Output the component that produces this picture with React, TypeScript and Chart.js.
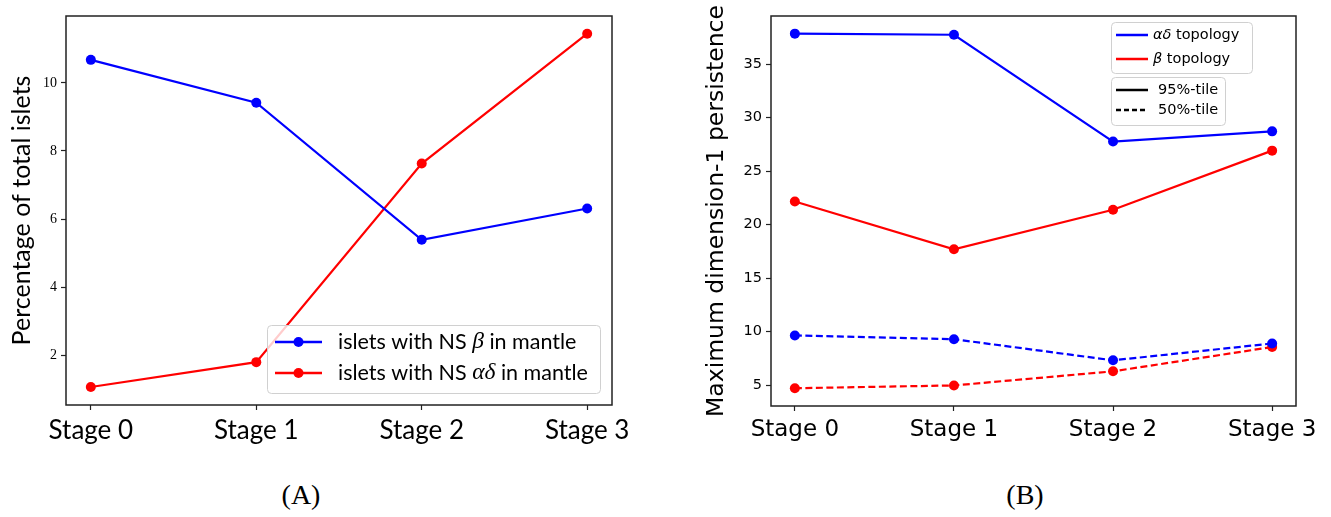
import React, { useEffect, useRef } from 'react';
import { Chart, registerables } from 'chart.js';
Chart.register(...registerables);

// ---------- data ----------
const stages = ['Stage 0', 'Stage 1', 'Stage 2', 'Stage 3'];
const stageIdx = [0, 1, 2, 3];

// Panel A
const nsBetaInMantle = [10.68, 9.42, 5.39, 6.31];
const nsAlphaDeltaInMantle = [1.06, 1.79, 7.63, 11.45];
const yTicksA = [2, 4, 6, 8, 10];
const yRangeA = [0.53, 11.97];

// Panel B
const alphaDelta95 = [37.85, 37.75, 27.77, 28.72];
const beta95 = [22.17, 17.7, 21.4, 26.92];
const alphaDelta50 = [9.65, 9.3, 7.33, 8.9];
const beta50 = [4.72, 4.98, 6.3, 8.57];
const yTicksB = [5, 10, 15, 20, 25, 30, 35];
const yRangeB = [3.06, 39.5];

const xRange = [-0.15, 3.15];

const BLUE = '#0000ff';
const RED = '#ff0000';

type Seg = { text: string; font: string };
type LegendItem = { color: string; dash: number[]; marker: boolean; segs: Seg[] };

const LATO = (px: number) => `${px}px Lato`;
const MATH = (px: number) => `italic ${px}px "Liberation Serif"`;
const DJ = (px: number) => `${px}px "DejaVu Sans"`;
const DJI = (px: number) => `italic ${px}px "DejaVu Sans"`;

const legendA: LegendItem[] = [
  { color: BLUE, dash: [], marker: true, segs: [{ text: 'islets with NS ', font: LATO(21.5) }, { text: 'β', font: MATH(23.5) }, { text: ' in mantle', font: LATO(21.5) }] },
  { color: RED, dash: [], marker: true, segs: [{ text: 'islets with NS ', font: LATO(21.5) }, { text: 'αδ', font: MATH(23.5) }, { text: ' in mantle', font: LATO(21.5) }] },
];
const legendB1: LegendItem[] = [
  { color: BLUE, dash: [], marker: false, segs: [{ text: 'αδ', font: DJI(14.5) }, { text: ' topology', font: DJ(14.5) }] },
  { color: RED, dash: [], marker: false, segs: [{ text: 'β', font: DJI(14.5) }, { text: ' topology', font: DJ(14.5) }] },
];
const legendB2: LegendItem[] = [
  { color: '#000', dash: [], marker: false, segs: [{ text: '95%-tile', font: DJ(14.5) }] },
  { color: '#000', dash: [5, 3], marker: false, segs: [{ text: '50%-tile', font: DJ(14.5) }] },
];

function roundRect(ctx: CanvasRenderingContext2D, x: number, y: number, w: number, h: number, r: number) {
  ctx.beginPath();
  ctx.moveTo(x + r, y);
  ctx.lineTo(x + w - r, y);
  ctx.quadraticCurveTo(x + w, y, x + w, y + r);
  ctx.lineTo(x + w, y + h - r);
  ctx.quadraticCurveTo(x + w, y + h, x + w - r, y + h);
  ctx.lineTo(x + r, y + h);
  ctx.quadraticCurveTo(x, y + h, x, y + h - r);
  ctx.lineTo(x, y + r);
  ctx.quadraticCurveTo(x, y, x + r, y);
  ctx.closePath();
}

type LegendBox = {
  items: LegendItem[];
  box: [number, number, number, number];
  lineX: [number, number];
  textX: number;
  rowY: number[];
  lineWidth: number;
};

function drawLegend(ctx: CanvasRenderingContext2D, lb: LegendBox) {
  ctx.save();
  const [bx, by, bw, bh] = lb.box;
  roundRect(ctx, bx + 0.5, by + 0.5, bw, bh, 4);
  ctx.fillStyle = 'rgba(255,255,255,0.8)';
  ctx.fill();
  ctx.strokeStyle = '#d0d0d0';
  ctx.lineWidth = 1;
  ctx.stroke();
  lb.items.forEach((it, i) => {
    const y = lb.rowY[i];
    ctx.strokeStyle = it.color;
    ctx.lineWidth = lb.lineWidth;
    ctx.setLineDash(it.dash);
    ctx.beginPath();
    ctx.moveTo(lb.lineX[0], y);
    ctx.lineTo(lb.lineX[1], y);
    ctx.stroke();
    ctx.setLineDash([]);
    if (it.marker) {
      ctx.fillStyle = it.color;
      ctx.beginPath();
      ctx.arc((lb.lineX[0] + lb.lineX[1]) / 2, y, 5, 0, Math.PI * 2);
      ctx.fill();
    }
    ctx.fillStyle = '#000';
    ctx.textBaseline = 'middle';
    ctx.textAlign = 'left';
    let cx = lb.textX;
    for (const s of it.segs) {
      ctx.font = s.font;
      ctx.fillText(s.text, cx, y);
      cx += ctx.measureText(s.text).width;
    }
  });
  ctx.restore();
}

const boxPlugin = {
  id: 'frameBox',
  afterDraw(chart: any) {
    const { ctx, chartArea } = chart;
    const { left, top, right, bottom } = chartArea;
    ctx.save();
    ctx.strokeStyle = '#222';
    ctx.lineWidth = 1.5;
    ctx.strokeRect(left, top, right - left, bottom - top);
    ctx.restore();
  },
};

function makeLegendPlugin(boxes: LegendBox[]) {
  return {
    id: 'customLegend',
    afterDatasetsDraw(chart: any) {
      boxes.forEach((b) => drawLegend(chart.ctx, b));
    },
  };
}

function series(vals: number[]) {
  return vals.map((v, i) => ({ x: stageIdx[i], y: v }));
}

function lineDs(label: string, vals: number[], color: string, dash: number[] = []) {
  return {
    label,
    data: series(vals),
    borderColor: color,
    backgroundColor: color,
    borderWidth: 2.2,
    borderDash: dash,
    pointRadius: 5,
    pointHoverRadius: 5,
    pointBorderWidth: 0,
    pointBackgroundColor: color,
    tension: 0,
  };
}

function baseOptions(cfg: {
  yRange: number[];
  yTicks: number[];
  yWidth: number;
  xHeight: number;
  padRight: number;
  tickFont: any;
  yTickFont: any;
  title: string;
  titleFont: any;
  titlePad: number;
  xTickPad: number;
}) {
  return {
    responsive: false,
    animation: false,
    events: [],
    layout: { padding: { top: 16, right: cfg.padRight, left: 0, bottom: 0 } },
    plugins: { legend: { display: false }, tooltip: { enabled: false } },
    scales: {
      x: {
        type: 'linear',
        min: xRange[0],
        max: xRange[1],
        afterBuildTicks: (s: any) => {
          s.ticks = stageIdx.map((v) => ({ value: v }));
        },
        afterFit: (s: any) => {
          s.height = cfg.xHeight;
        },
        ticks: {
          callback: (v: any) => stages[v] ?? '',
          font: cfg.tickFont,
          color: '#000',
          padding: cfg.xTickPad,
          maxRotation: 0,
          autoSkip: false,
        },
        grid: { drawOnChartArea: false, drawTicks: true, tickLength: 5, tickColor: '#222', tickWidth: 1.2 },
        border: { display: false },
      },
      y: {
        type: 'linear',
        min: cfg.yRange[0],
        max: cfg.yRange[1],
        afterBuildTicks: (s: any) => {
          s.ticks = cfg.yTicks.map((v) => ({ value: v }));
        },
        afterFit: (s: any) => {
          s.width = cfg.yWidth;
        },
        ticks: { font: cfg.yTickFont, color: '#000', padding: 4 },
        grid: { drawOnChartArea: false, drawTicks: true, tickLength: 5, tickColor: '#222', tickWidth: 1.2 },
        border: { display: false },
        title: {
          display: true,
          text: cfg.title,
          font: cfg.titleFont,
          color: '#000',
          padding: { top: cfg.titlePad, bottom: 0 },
        },
      },
    },
  };
}

function PanelA() {
  const ref = useRef<HTMLCanvasElement>(null);
  useEffect(() => {
    const chart = new Chart(ref.current as HTMLCanvasElement, {
      type: 'line',
      data: {
        datasets: [
          lineDs('islets with NS β in mantle', nsBetaInMantle, BLUE),
          lineDs('islets with NS αδ in mantle', nsAlphaDeltaInMantle, RED),
        ],
      },
      options: baseOptions({
        yRange: yRangeA,
        yTicks: yTicksA,
        yWidth: 66,
        xHeight: 55,
        padRight: 48,
        tickFont: { family: 'Lato', size: 26, lineHeight: 1.2 },
        yTickFont: { family: '"Liberation Serif"', size: 14 },
        title: 'Percentage of total islets',
        titleFont: { family: 'Lato', size: 25, lineHeight: 1.2 },
        titlePad: 7,
        xTickPad: 5,
      }) as any,
      plugins: [
        boxPlugin,
        makeLegendPlugin([
          {
            items: legendA,
            box: [267, 325, 333, 68],
            lineX: [275, 322],
            textX: 338,
            rowY: [342, 373],
            lineWidth: 2.5,
          },
        ]),
      ],
    });
    return () => chart.destroy();
  }, []);
  return <canvas ref={ref} width={660} height={460} style={{ position: 'absolute', left: 0, top: 0, width: 660, height: 460 }} />;
}

function PanelB() {
  const ref = useRef<HTMLCanvasElement>(null);
  useEffect(() => {
    const ox = 680;
    const chart = new Chart(ref.current as HTMLCanvasElement, {
      type: 'line',
      data: {
        datasets: [
          lineDs('αδ topology 95%-tile', alphaDelta95, BLUE),
          lineDs('β topology 95%-tile', beta95, RED),
          lineDs('αδ topology 50%-tile', alphaDelta50, BLUE, [7, 3.5]),
          lineDs('β topology 50%-tile', beta50, RED, [7, 3.5]),
        ],
      },
      options: baseOptions({
        yRange: yRangeB,
        yTicks: yTicksB,
        yWidth: 91,
        xHeight: 54,
        padRight: 35,
        tickFont: { family: '"DejaVu Sans"', size: 23, lineHeight: 1.2 },
        yTickFont: { family: '"DejaVu Sans"', size: 14.5 },
        title: 'Maximum dimension-1 persistence',
        titleFont: { family: '"DejaVu Sans"', size: 23.5, lineHeight: 1.2 },
        titlePad: 23,
        xTickPad: 5,
      }) as any,
      plugins: [
        boxPlugin,
        makeLegendPlugin([
          {
            items: legendB1,
            box: [1111 - ox, 22, 141, 51],
            lineX: [1116 - ox, 1148 - ox],
            textX: 1153 - ox,
            rowY: [35, 59],
            lineWidth: 2.5,
          },
          {
            items: legendB2,
            box: [1111 - ox, 77, 114, 48],
            lineX: [1116 - ox, 1148 - ox],
            textX: 1158 - ox,
            rowY: [90, 110],
            lineWidth: 2.5,
          },
        ]),
      ],
    });
    return () => chart.destroy();
  }, []);
  return <canvas ref={ref} width={651} height={460} style={{ position: 'absolute', left: 680, top: 0, width: 651, height: 460 }} />;
}

const captionStyle: React.CSSProperties = {
  position: 'absolute',
  top: 480,
  height: 30,
  lineHeight: '30px',
  fontSize: 28,
  fontFamily: '"Liberation Serif", serif',
  color: '#000',
  width: 100,
  textAlign: 'center',
};

export default function App() {
  return (
    <div style={{ position: 'absolute', left: 0, top: 0, width: 1331, height: 517, background: '#fff', overflow: 'hidden' }}>
      <PanelA />
      <PanelB />
      <div style={{ ...captionStyle, left: 301 - 50 }}>(A)</div>
      <div style={{ ...captionStyle, left: 1025 - 50 }}>(B)</div>
    </div>
  );
}
